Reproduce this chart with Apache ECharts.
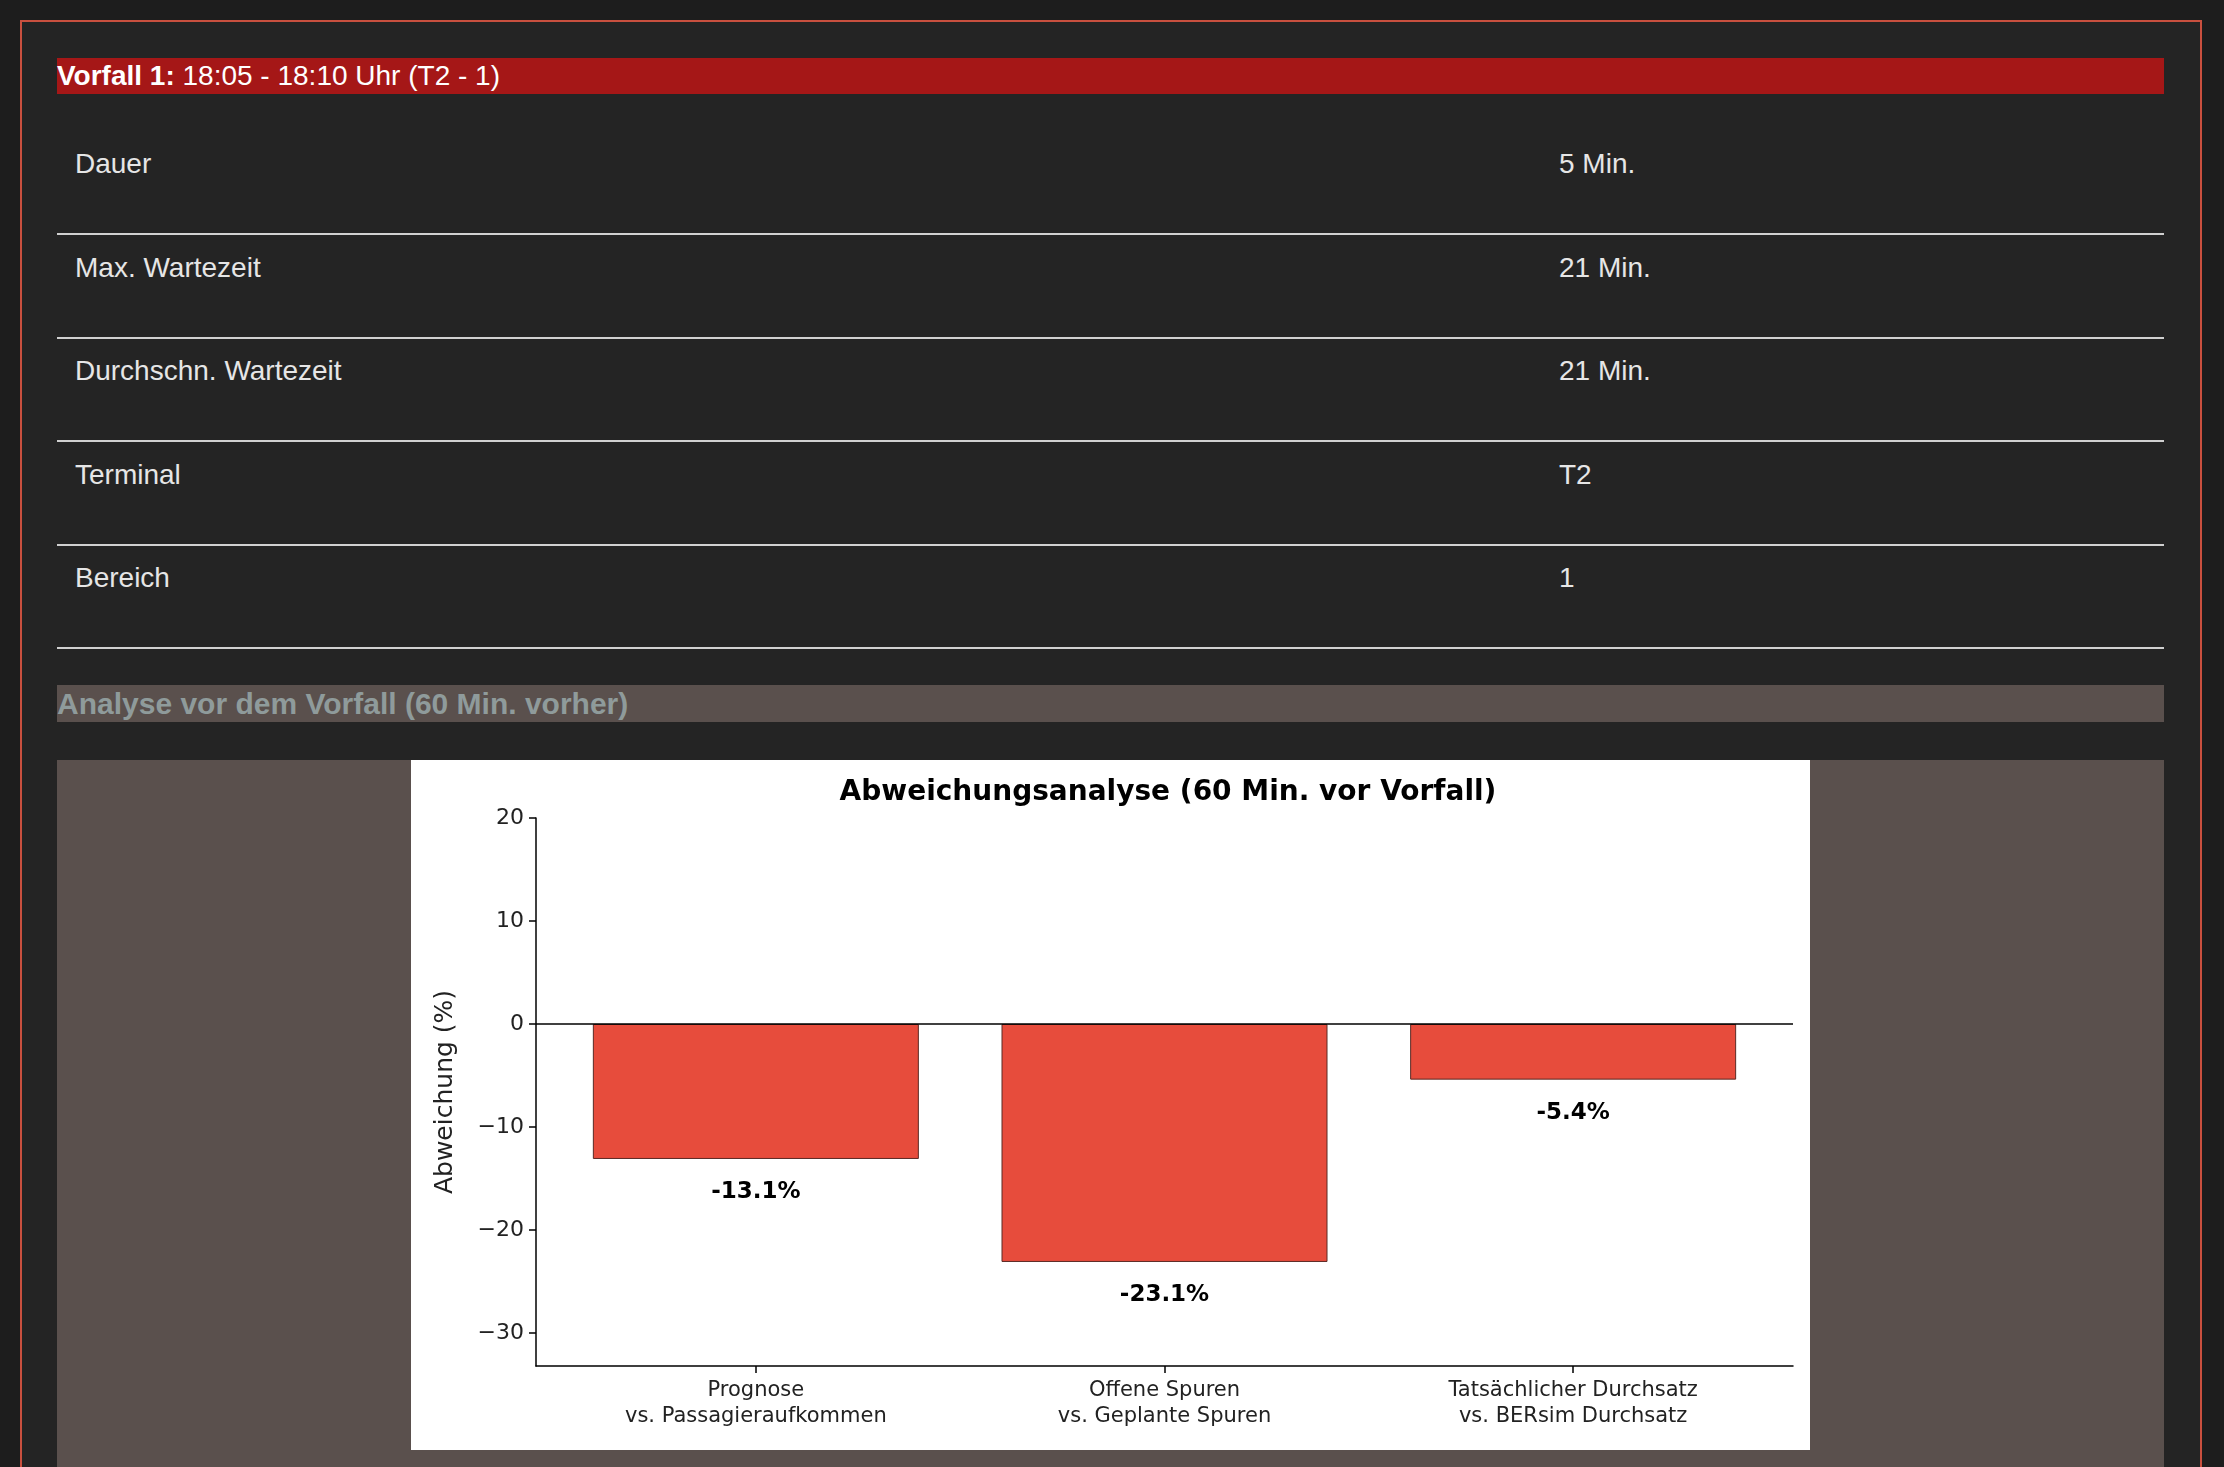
<!DOCTYPE html>
<html>
<head>
<meta charset="utf-8">
<script src="https://cdn.jsdelivr.net/npm/echarts@6/dist/echarts.min.js"></script>
<style>
  body { margin: 0; background: #1d1d1d; width: 2224px; height: 1467px; overflow: hidden;
         font-family: "Liberation Sans", Arial, sans-serif; }
  #card { position: absolute; left: 20px; top: 20px; width: 2182px; height: 1460px;
          background: #242424; border: 2px solid #c9503f; box-sizing: border-box; }
  #head { position: absolute; left: 57px; top: 58px; width: 2107px; height: 36px; background: #a51717;
          color: #fff; font-size: 28px; line-height: 36px; }
  .row { position: absolute; left: 57px; width: 2107px; height: 103px; border-bottom: 2px solid #d0d0d0;
         color: #e6e6e6; font-size: 28px; }
  .row span { position: absolute; top: 18px; }
  #sec { position: absolute; left: 57px; top: 685px; width: 2107px; height: 37px; background: #5a504d;
         color: #8f9b9b; font-size: 30px; font-weight: bold; line-height: 37px; }
  #panel { position: absolute; left: 57px; top: 760px; width: 2107px; height: 707px; background: #5a504d; }
  #chart { position: absolute; left: 411px; top: 760px; width: 1399px; height: 690px; background: #fff; }
</style>
</head>
<body>
<div id="card"></div>
<div id="head"><b>Vorfall 1:</b> 18:05 - 18:10 Uhr (T2 - 1)</div>
<div id="rows"></div>
<div id="sec">Analyse vor dem Vorfall (60 Min. vorher)</div>
<div id="panel"></div>
<div id="chart"></div>
<script>
// Tabelle
let rowLabels = ['Dauer', 'Max. Wartezeit', 'Durchschn. Wartezeit', 'Terminal', 'Bereich'];
let rowValues = ['5 Min.', '21 Min.', '21 Min.', 'T2', '1'];
let rowsEl = document.getElementById('rows');
rowLabels.forEach(function (l, i) {
    let d = document.createElement('div');
    d.className = 'row';
    d.style.top = (130 + i * 103.5) + 'px';
    d.innerHTML = '<span style="left:18px">' + l + '</span><span style="left:1502px">' + rowValues[i] + '</span>';
    rowsEl.appendChild(d);
});

// Diagramm
let categories = ['Prognose\nvs. Passagieraufkommen', 'Offene Spuren\nvs. Geplante Spuren',
    'Tatsächlicher Durchsatz\nvs. BERsim Durchsatz'];
let deviations = [-13.1, -23.1, -5.4];
let yTicks = [-30, -20, -10, 0, 10, 20];

let chart = echarts.init(document.getElementById('chart'));
let font = 'DejaVu Sans';
chart.setOption({
    animation: false,
    textStyle: { fontFamily: font },
    title: {
        text: 'Abweichungsanalyse (60 Min. vor Vorfall)',
        left: 752, top: 14, textAlign: 'center',
        textStyle: { fontSize: 28, fontWeight: 'bold', color: '#000', fontFamily: font },
    },
    grid: { left: 125, right: 17, top: 58, bottom: 84 },
    xAxis: {
        type: 'value', min: -0.538, max: 2.538,
        splitLine: { show: false },
        axisLine: { show: true, onZero: false, lineStyle: { color: '#000', width: 1.5 } },
        axisTick: { show: true, customValues: [0, 1, 2], length: 7, lineStyle: { color: '#000', width: 1.5 } },
        axisLabel: {
            customValues: [0, 1, 2], color: '#222', fontSize: 21, lineHeight: 26, margin: 12,
            formatter: function (v) { return categories[Math.round(v)]; },
        },
    },
    yAxis: {
        type: 'value', min: -33.2, max: 20,
        name: 'Abweichung (%)', nameLocation: 'middle', nameGap: 78, nameRotate: 90,
        nameTextStyle: { fontSize: 25, color: '#222' },
        splitLine: { show: false },
        axisLine: { show: true, onZero: false, lineStyle: { color: '#000', width: 1.5 } },
        axisTick: { show: true, customValues: yTicks, length: 7, lineStyle: { color: '#000', width: 1.5 } },
        axisLabel: {
            customValues: yTicks, color: '#222', fontSize: 22, margin: 12,
            formatter: function (v) { return String(v).replace('-', '\u2212'); },
        },
    },
    series: [{
        type: 'bar',
        data: deviations.map(function (v, i) { return [i, v]; }),
        barWidth: 326,
        itemStyle: { color: '#e74c3c', borderColor: '#5a2a25', borderWidth: 1 },
        label: {
            show: true, position: 'bottom', distance: 22,
            fontSize: 23, fontWeight: 'bold', color: '#000',
            formatter: function (p) { return p.value[1].toFixed(1) + '%'; },
        },
        markLine: {
            silent: true, symbol: 'none', label: { show: false },
            lineStyle: { color: '#000', width: 1.5, type: 'solid' },
            data: [{ yAxis: 0 }],
        },
    }],
});
</script>
</body>
</html>
